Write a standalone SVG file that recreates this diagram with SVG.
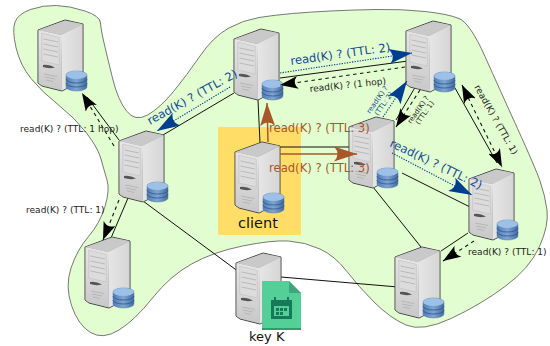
<svg xmlns="http://www.w3.org/2000/svg" width="550" height="346" viewBox="0 0 550 346">
<style>
text{font-family:"DejaVu Sans",sans-serif}
.l{fill:none;stroke:#111;stroke-width:1}
.d{fill:none;stroke:#111;stroke-width:1.100;stroke-dasharray:3.500 3.500}
.b{fill:none;stroke:#003f8f;stroke-width:1.100;stroke-dasharray:1.300 1.300}
.r{fill:none;stroke:#a8572b;stroke-width:1.500}
.tk{fill:#222;font-size:9.050px}
.tb{fill:#124a94;font-size:11.600px}
.tr{fill:#a8572b;font-size:11.600px}
</style>
<defs>
<linearGradient id="gf" x1="0" y1="0" x2="0" y2="1"><stop offset="0" stop-color="#e6e6e6"/><stop offset="1" stop-color="#c8c8c8"/></linearGradient>
<linearGradient id="gs" x1="0" y1="0" x2="1" y2="0"><stop offset="0" stop-color="#e6e6e6"/><stop offset="1" stop-color="#d6d6d6"/></linearGradient>
<linearGradient id="gd" x1="0" y1="0" x2="1" y2="0"><stop offset="0" stop-color="#4f7db5"/><stop offset=".5" stop-color="#7fa5d4"/><stop offset="1" stop-color="#406a9f"/></linearGradient>
<marker id="ak" markerUnits="userSpaceOnUse" markerWidth="18" markerHeight="13" viewBox="0 0 18 13" refX="18" refY="6.500" orient="auto-start-reverse"><path d="M18,6.500 L0,0 Q6,6.500 0,13 Z" fill="#000"/></marker>
<marker id="ab" markerUnits="userSpaceOnUse" markerWidth="23" markerHeight="15" viewBox="0 0 23 15" refX="23" refY="7.500" orient="auto"><path d="M23,7.500 L0,0 Q7,7.500 0,15 Z" fill="#003f8f"/></marker>
<marker id="ar" markerUnits="userSpaceOnUse" markerWidth="23" markerHeight="15" viewBox="0 0 23 15" refX="23" refY="7.500" orient="auto"><path d="M23,7.500 L0,0 Q7,7.500 0,15 Z" fill="#a8572b"/></marker>
<g id="srv">
<path d="M0,10 L27,0 L45,4 L45,60 L24,71 L4,66 L0,63 Z" fill="#8c8c8c" stroke="#444" stroke-width="1" stroke-linejoin="round"/>
<path d="M0.500,10 L27,0.500 L44.500,4 L23,15 Z" fill="#c9c9c9"/>
<path d="M23,15 L44.500,4 L44.500,60 L24,70.500 Z" fill="url(#gs)"/>
<path d="M0.500,10 L23,15 L24,70.500 L4,65.500 L0.500,63 Z" fill="url(#gf)"/>
<path d="M3.700,13 L21.300,17.500 L21.300,45 L3.700,41 Z" fill="#dcdcdc" stroke="#bbb" stroke-width=".5"/>
<path d="M5.500,19 L20,22 M5.500,24 L20,27 M5.500,29 L20,32 M5.500,34 L20,37" stroke="#aaa" stroke-width=".7" fill="none"/>
<path d="M5,45 Q11,44 17,47.500 Q11,49 5,47 Z" fill="#555"/>
<path d="M6,54 L19,56.500 M7,57 L17,59 M8,60 L15,61.500" stroke="#aaa" stroke-width=".7" fill="none"/>
<path d="M28,55 A10.500,4 0 0 1 49,55 V67 A10.500,4 0 0 1 28,67 Z" fill="url(#gd)" stroke="#5a7da8" stroke-width=".5"/>
<path d="M28,59 A10.500,4 0 0 0 49,59 M28,63 A10.500,4 0 0 0 49,63" fill="none" stroke="#2f5585" stroke-width=".8"/>
<ellipse cx="38.500" cy="55" rx="10.500" ry="4" fill="#9cc0e6"/>
</g>
</defs>
<path id="region" d="M15,22 Q18,14 30.500,9.500 Q43,5 56.500,5.500 Q70,6 85,11 Q100,16 100.500,23 Q101,30 104.500,45 Q108,60 113,80 Q118,100 126.500,111 Q135,122 147.500,115 Q160,108 173.500,91.500 Q187,75 200,56 Q213,37 228,28.500 Q243,20 259,17.500 Q275,15 292.500,13.500 Q310,12 330,11 Q350,10 376,9.500 Q402,9 425,11.500 Q448,14 459,18.500 Q470,23 485,56.500 Q500,90 517.500,128.500 Q535,167 540,181 Q545,195 547,210 Q549,225 539.500,246.500 Q530,268 505,286.500 Q480,305 451,318.500 Q422,332 406,325 Q390,318 374,302 Q358,286 346.500,271 Q335,256 320,249 Q305,242 288.500,241 Q272,240 242.500,246 Q213,252 191.500,264 Q170,276 152.500,298 Q135,320 119,330 Q103,340 90.500,332.500 Q78,325 71.500,305.500 Q65,286 71,268 Q77,250 88.500,236.500 Q100,223 105,206.500 Q110,190 107,180 Q104,170 101,159 Q98,148 86.500,133 Q75,118 58.500,105 Q42,92 31,78.500 Q20,65 16,47.500 Q12,30 15,22 Z" fill="#e2fdcf" stroke="#555" stroke-width=".8"/>
<rect id="client-zone" x="218" y="127" width="83" height="108" fill="#ffdd66"/>
<g id="links-under">
<path class="l" d="M119,140 L87,97"/>
<path class="l" d="M163,135 L234,93"/>
<path class="l" d="M258,100 L260,143"/>
<path class="l" d="M280,78 L408,61"/>
<path class="l" d="M278,147 L353,147"/>
<path class="l" d="M396,120 L417,84"/>
<path class="l" d="M455,88 L497,163"/>
<path class="l" d="M402,173 L472,208"/>
<path class="l" d="M373,187 L421,247"/>
<path class="l" d="M468,233 L441,251"/>
<path class="l" d="M128,198 L111,238"/>
<path class="l" d="M143,201 L239,272"/>
<path class="l" d="M281,277 L398,287"/>
</g>
<g id="n1"><use href="#srv" x="38" y="20"/></g>
<g id="n2"><use href="#srv" x="234" y="29"/></g>
<g id="n3"><use href="#srv" x="406" y="21"/></g>
<g id="n4"><use href="#srv" x="119" y="131"/></g>
<g id="client"><use href="#srv" x="235" y="142"/><text x="238" y="228" font-size="14.500" fill="#111">client</text></g>
<g id="n6"><use href="#srv" x="349" y="117"/></g>
<g id="n7"><use href="#srv" x="469" y="169"/></g>
<g id="n8"><use href="#srv" x="395" y="247"/></g>
<g id="n9"><use href="#srv" x="85" y="237"/></g>
<g id="key"><use href="#srv" x="236" y="253"/>
<path d="M262,281 H289 L301,293 V330 H262 Z" fill="#55cf98"/>
<path d="M262,328 H301 V330 H262 Z" fill="#2f9e6e"/>
<path d="M289,281 L301,293 H289 Z" fill="#3fa57c"/>
<path d="M271,300 H292 V319 H271 Z M274,306 V316 H289 V306 Z M276,308 h3 v3 h-3 Z M280,308 h3 v3 h-3 Z M284,308 h3 v3 h-3 Z M276,312 h3 v3 h-3 Z M280,312 h3 v3 h-3 Z" fill="#18795a" fill-rule="evenodd"/>
<path d="M275,297 v4 M288,297 v4" stroke="#18795a" stroke-width="2"/>
<text x="249" y="341" font-size="13" fill="#111">key K</text></g>
<g id="connectors">
<path class="d" d="M114,146 L82,93" marker-end="url(#ak)"/>
<path class="d" d="M119,200 L103,240" marker-end="url(#ak)"/>
<path class="b" d="M230,87 L157,131" marker-end="url(#ab)"/>
<path class="b" d="M280,73 L412,53" marker-end="url(#ab)"/>
<path class="d" d="M405,67 L280,85" marker-end="url(#ak)"/>
<path class="b" d="M383,117 L407,81" marker-end="url(#ab)"/>
<path class="d" d="M420,90 L396,127" marker-end="url(#ak)"/>
<path class="d" d="M462,85 L502,167" marker-start="url(#ak)" marker-end="url(#ak)"/>
<path class="b" d="M392,153 L472,195" marker-end="url(#ab)"/>
<path class="d" d="M474,241 L443,261" marker-end="url(#ak)"/>
<path class="r" d="M268,142 L267,103" marker-end="url(#ar)"/>
<path class="r" d="M280,154 L357,154" marker-end="url(#ar)"/>
</g>
<g id="labels">
<text class="tk" x="20" y="132">read(K) ? (TTL: 1 hop)</text>
<text class="tk" x="26" y="213">read(K) ? (TTL: 1)</text>
<text class="tb" transform="translate(150,125) rotate(-29)">read(K) ? (TTL: 2)</text>
<text class="tb" transform="translate(291,65) rotate(-8)">read(K) ? (TTL: 2)</text>
<text class="tk" transform="translate(310,92) rotate(-6)">read(K) ? (1 hop)</text>
<text class="tr" x="269" y="132">read(K) ? (TTL: 3)</text>
<text class="tr" x="269" y="172">read(K) ? (TTL: 3)</text>
<text font-size="7" fill="#124a94" transform="translate(370,114) rotate(-55)">read(K) ?</text>
<text font-size="7" fill="#124a94" transform="translate(378,116) rotate(-55)">(TTL: 2)</text>
<text font-size="7" fill="#222" transform="translate(411,124) rotate(-55)">read(K) ?</text>
<text font-size="7" fill="#222" transform="translate(419,125) rotate(-55)">(TTL: 1)</text>
<text class="tk" transform="translate(474,87) rotate(60.500)">read(K) ? (TTL: 1)</text>
<text class="tb" transform="translate(389,146) rotate(25.500)">read(K) ? (TTL: 2)</text>
<text class="tk" x="468" y="255">read(K) ? (TTL: 1)</text>
</g>
</svg>
